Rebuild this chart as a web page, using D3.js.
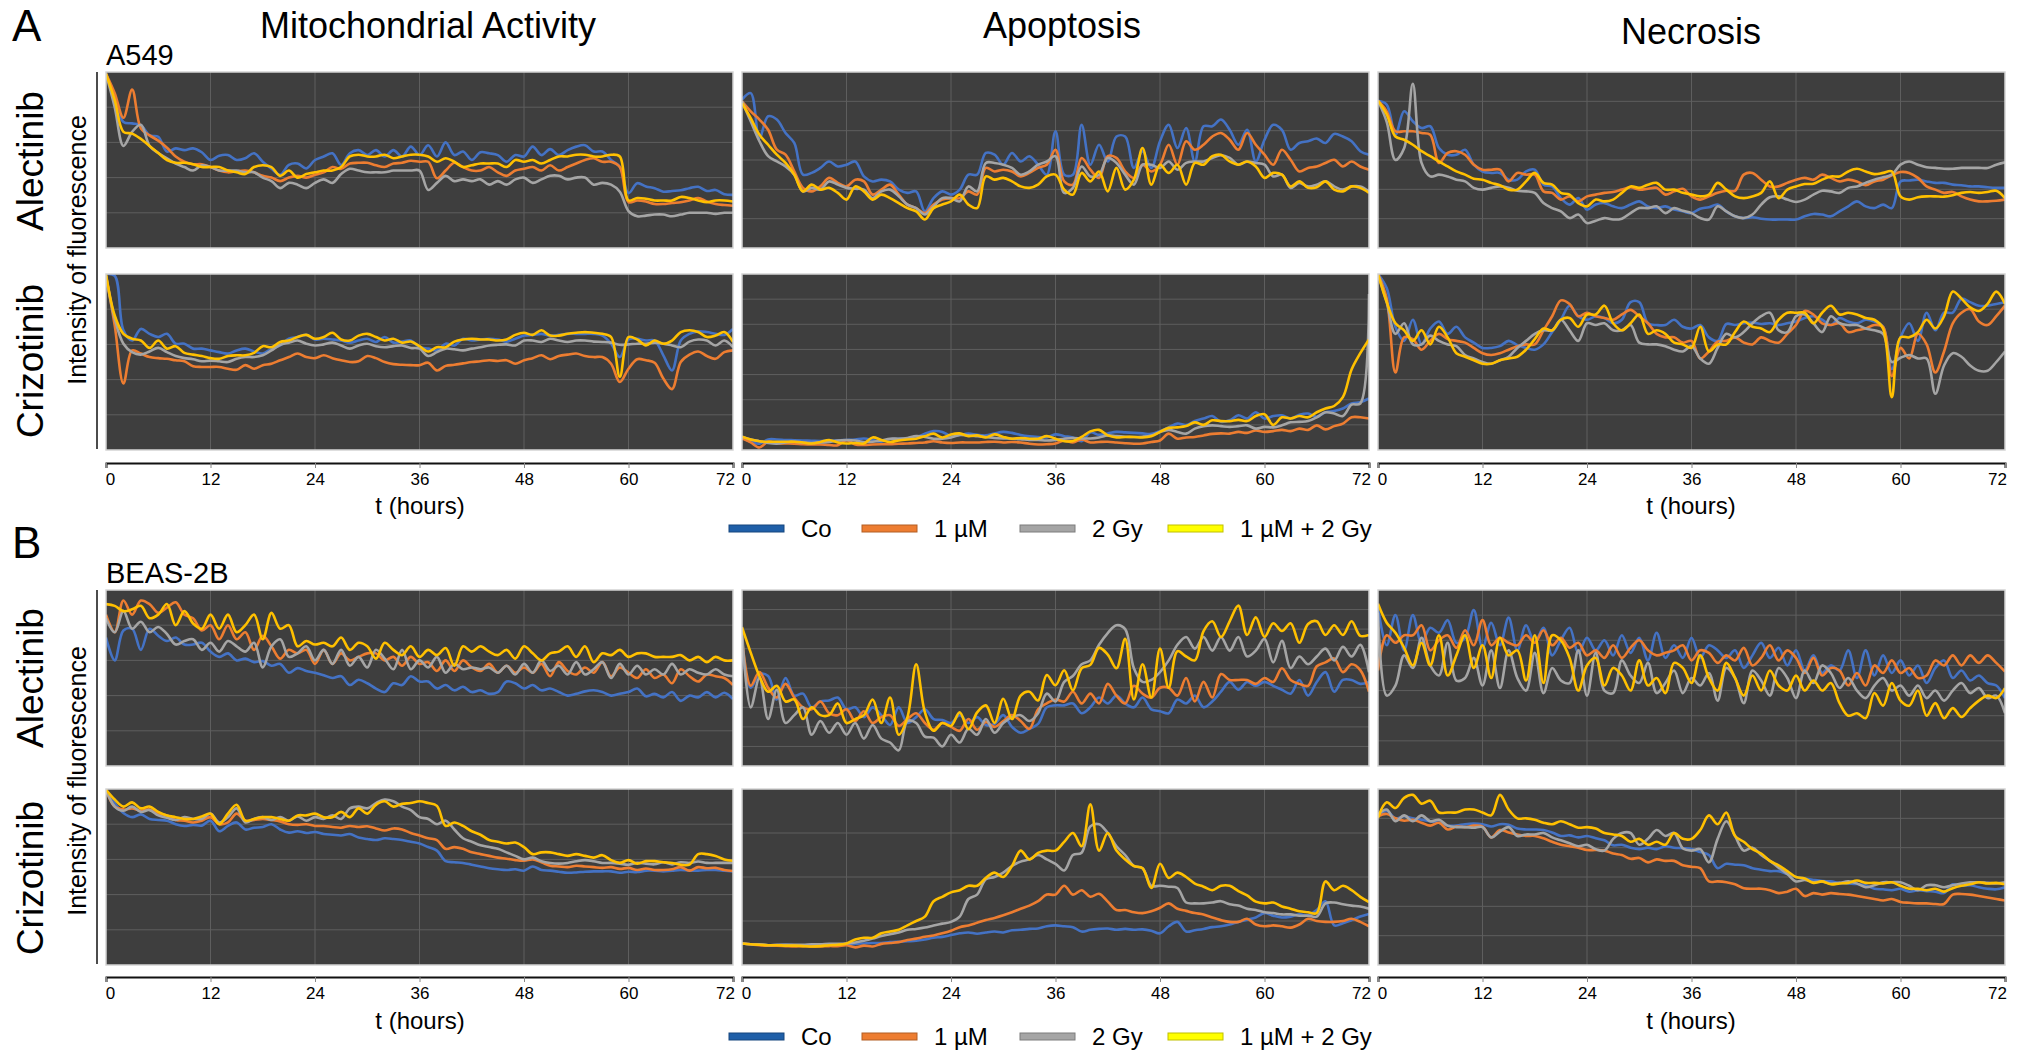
<!DOCTYPE html>
<html>
<head>
<meta charset="utf-8">
<script src="https://cdn.jsdelivr.net/npm/d3@7"></script>
<style>
body { margin: 0; background: #fff; }
svg text { font-family: "Liberation Sans", Arial, sans-serif; fill: #000; }
</style>
</head>
<body>
<svg id="chart" width="2024" height="1051"></svg>
<script>
// hourly readings, t = 0..72 h, in grid units of each panel
var hours = d3.range(0, 73);
var tickHours = [0, 12, 24, 36, 48, 60, 72];
var legendLabels = ["Co", "1 \u00b5M", "2 Gy", "1 \u00b5M + 2 Gy"];
var lineColors = ["#4472c4", "#ed7d31", "#a5a5a5", "#ffc000"];
var swatchColors = ["#1f5fa8", "#ed7d31", "#a5a5a5", "#ffff00"];
var columnTitles = ["Mitochondrial Activity", "Apoptosis", "Necrosis"];
var rowLabels = ["Alectinib", "Crizotinib", "Alectinib", "Crizotinib"];

// A549 - mitochondrial activity - alectinib
var aMitoAlecCo = [4.95,4.25,3.58,3.54,3.49,3.2,3.16,2.74,2.83,2.78,2.83,2.72,2.5,2.62,2.64,2.5,2.55,2.69,2.45,2.25,2.08,2.36,2.4,2.26,2.5,2.6,2.69,2.36,2.69,2.78,2.64,2.78,2.6,2.78,2.6,2.88,2.64,2.92,2.6,3.0,2.64,2.74,2.5,2.72,2.69,2.64,2.45,2.64,2.6,2.88,2.64,2.81,2.64,2.78,2.88,2.92,2.74,2.74,2.5,2.31,1.56,1.84,1.75,1.7,1.6,1.62,1.64,1.7,1.74,1.62,1.65,1.53,1.51];
var aMitoAlecUm = [4.95,4.4,3.7,4.5,3.4,3.2,3.05,2.85,2.6,2.45,2.38,2.38,2.3,2.2,2.15,2.18,2.2,2.15,2.05,2.0,1.9,2.0,2.05,2.0,2.08,2.15,2.3,2.25,2.4,2.42,2.42,2.35,2.3,2.4,2.42,2.48,2.45,2.45,1.98,2.2,2.42,2.3,2.2,2.2,2.3,2.15,2.05,2.2,2.25,2.3,2.2,2.35,2.2,2.3,2.4,2.5,2.55,2.45,2.45,2.3,1.3,1.35,1.32,1.25,1.25,1.28,1.3,1.35,1.42,1.32,1.25,1.22,1.2];
var aMitoAlecGy = [4.95,4.0,2.9,3.3,3.5,2.9,2.7,2.55,2.4,2.3,2.2,2.35,2.3,2.2,2.2,2.2,2.15,2.15,2.0,1.9,1.7,1.85,1.8,1.7,1.85,1.95,1.85,2.1,2.25,2.2,2.15,2.15,2.15,2.2,2.2,2.2,2.2,1.65,1.85,2.05,1.9,1.95,1.9,1.95,1.8,1.9,1.8,1.95,2.0,1.85,1.95,2.05,2.05,1.95,2.0,2.0,1.8,1.85,1.8,1.6,1.05,0.9,0.92,0.95,0.95,0.9,0.95,1.0,1.0,1.0,0.97,1.0,1.0];
var aMitoAlecBoth = [4.95,4.2,3.3,3.25,3.1,2.9,2.7,2.5,2.42,2.42,2.38,2.3,2.3,2.3,2.2,2.15,2.1,2.3,2.35,2.3,2.05,2.2,2.0,2.1,2.15,2.2,2.2,2.3,2.6,2.65,2.6,2.6,2.65,2.55,2.6,2.65,2.65,2.6,2.45,2.55,2.45,2.3,2.35,2.4,2.4,2.4,2.3,2.5,2.45,2.5,2.4,2.5,2.6,2.6,2.65,2.65,2.6,2.6,2.65,2.6,1.35,1.42,1.4,1.35,1.35,1.35,1.45,1.42,1.35,1.3,1.35,1.35,1.32];

// A549 - apoptosis - alectinib
var aApopAlecCo = [5.06,5.28,3.75,4.49,4.38,3.92,3.58,2.5,2.56,2.73,2.95,2.78,2.84,2.95,2.44,2.27,2.33,2.27,1.99,1.88,1.93,1.25,1.7,1.93,1.82,1.99,2.5,2.5,3.24,3.18,2.84,3.24,2.95,3.13,2.84,2.5,3.98,2.5,2.5,4.2,2.84,3.52,2.95,3.8,3.8,2.73,3.3,2.73,3.64,4.2,3.41,4.09,2.95,4.15,4.15,4.38,4.03,3.52,4.03,2.95,3.69,4.2,4.03,3.35,3.58,3.64,3.73,3.58,3.89,3.8,3.64,3.3,3.18];
var aApopAlecUm = [5.0,4.66,4.38,4.03,3.35,3.18,2.61,2.05,1.93,2.1,2.39,2.22,2.1,2.33,2.27,1.82,1.99,2.16,1.82,1.48,1.36,1.19,1.48,1.65,1.7,1.7,1.93,1.82,2.73,2.61,2.67,2.61,2.44,2.56,2.73,2.84,3.35,2.27,2.16,3.07,2.67,2.39,3.13,3.07,2.61,2.39,2.84,2.61,2.84,3.52,2.84,3.64,3.35,3.52,3.8,3.92,3.69,3.35,3.92,3.52,3.18,2.84,3.35,3.01,2.61,2.73,2.78,2.9,3.01,2.78,2.95,2.78,2.67];
var aApopAlecGy = [5.0,4.32,3.64,3.13,2.95,2.78,2.5,1.93,2.05,1.99,2.27,2.16,2.05,2.02,1.99,1.7,1.93,1.99,1.76,1.48,1.36,1.14,1.42,1.7,1.7,1.59,2.1,1.93,2.9,2.9,2.84,2.73,2.5,2.61,2.84,2.95,3.13,1.88,2.05,2.78,2.44,2.5,3.07,2.9,2.5,2.16,2.84,2.84,2.73,2.95,2.67,2.9,2.95,2.95,3.07,3.16,3.07,2.84,2.95,2.9,2.84,2.44,2.5,2.05,2.22,2.1,2.16,2.27,2.1,1.99,2.1,2.1,1.93];
var aApopAlecBoth = [4.94,4.43,3.86,3.52,3.18,2.9,2.5,1.93,2.16,1.99,2.05,1.88,1.65,2.1,1.93,1.65,1.82,1.7,1.53,1.36,1.25,0.97,1.36,1.48,1.59,1.82,1.48,1.36,2.44,2.33,2.39,2.27,2.1,2.05,2.16,2.44,2.5,1.99,1.82,2.56,2.27,2.61,1.93,2.73,1.99,2.33,3.41,2.16,2.84,2.56,2.84,2.16,2.9,2.84,3.13,3.18,2.95,2.84,2.95,2.78,2.39,2.56,2.5,2.1,2.27,2.05,2.07,2.27,1.99,1.93,2.1,2.05,1.88];

// A549 - necrosis - alectinib
var aNecrAlecCo = [5.02,4.89,3.86,4.66,4.32,4.09,4.15,3.41,3.18,3.18,3.35,2.84,2.61,2.56,2.56,2.33,2.33,2.61,2.67,2.16,2.1,1.7,1.48,1.7,1.31,1.48,1.53,1.42,1.36,1.48,1.59,1.42,1.36,1.42,1.31,1.25,1.19,1.34,1.39,1.48,1.25,1.08,1.02,1.05,1.0,0.97,0.97,0.97,0.97,1.08,1.16,1.14,1.08,1.25,1.42,1.59,1.42,1.36,1.48,1.36,2.27,2.3,2.33,2.27,2.22,2.22,2.16,2.14,2.1,2.1,2.07,2.05,2.05];
var aNecrAlecUm = [5.02,4.66,3.98,3.98,3.98,3.92,3.86,2.9,3.24,3.3,3.18,2.84,2.67,2.67,2.67,2.27,2.56,2.5,2.5,1.93,1.88,1.65,1.76,1.59,1.76,1.82,1.88,1.91,1.99,2.07,1.99,2.02,2.05,1.82,1.93,2.02,1.76,1.65,1.76,1.88,1.95,1.95,2.5,2.56,2.33,2.1,2.1,2.22,2.33,2.39,2.33,2.5,2.39,2.27,2.33,2.27,2.14,2.27,2.33,2.48,2.59,2.56,2.39,2.1,1.99,1.88,1.91,1.76,1.65,1.59,1.59,1.61,1.65];
var aNecrAlecGy = [5.02,4.3,3.0,3.4,5.6,2.9,2.44,2.5,2.44,2.33,2.27,2.05,1.99,2.05,2.1,2.05,1.95,1.93,1.88,1.53,1.36,1.25,1.02,1.14,0.85,0.93,1.02,0.97,1.0,1.19,1.36,1.36,1.42,1.19,1.36,1.27,1.19,1.02,0.97,1.42,1.25,1.08,1.02,1.14,1.48,1.73,1.76,1.65,1.57,1.65,1.82,1.95,1.93,1.88,2.05,2.1,2.22,2.33,2.41,2.5,2.84,2.95,2.84,2.75,2.73,2.7,2.7,2.73,2.73,2.73,2.73,2.84,2.92];
var aNecrAlecBoth = [5.02,4.55,3.8,3.69,3.52,3.3,3.13,2.95,2.78,2.61,2.5,2.36,2.33,2.22,2.14,1.99,1.99,2.27,2.56,2.22,2.16,1.88,1.82,1.53,1.42,1.65,1.59,1.65,1.88,2.1,2.05,2.16,2.22,1.99,1.99,1.88,1.82,1.76,1.82,2.22,1.99,1.76,1.7,1.76,1.88,2.27,1.7,1.99,2.1,2.18,2.19,2.33,2.44,2.44,2.61,2.7,2.61,2.52,2.56,2.61,1.76,1.65,1.73,1.76,1.76,1.75,1.8,1.88,1.91,1.88,1.91,1.95,1.7];

// A549 - mitochondrial activity - crizotinib
var aMitoCrizCo = [5.0,4.95,3.4,3.11,3.44,3.3,3.21,3.3,3.02,3.02,2.88,2.88,2.83,2.78,2.74,2.83,2.88,2.8,2.74,2.88,2.97,3.16,3.21,3.27,3.14,3.16,3.14,3.11,3.05,3.11,3.16,3.07,3.21,3.05,3.08,3.11,2.92,2.88,2.83,3.02,2.97,3.16,3.11,3.14,3.16,3.14,3.08,3.16,3.25,3.27,3.3,3.25,3.27,3.3,3.3,3.3,3.3,3.25,3.02,2.64,3.14,3.16,3.11,3.11,2.69,2.26,3.11,3.3,3.37,3.35,3.3,3.27,3.44];
var aMitoCrizUm = [4.95,3.54,1.89,2.83,2.74,2.64,2.61,2.59,2.55,2.52,2.38,2.36,2.36,2.36,2.31,2.28,2.41,2.31,2.41,2.45,2.55,2.64,2.74,2.64,2.61,2.69,2.61,2.55,2.5,2.52,2.67,2.61,2.5,2.44,2.42,2.41,2.41,2.48,2.26,2.39,2.42,2.46,2.5,2.52,2.55,2.53,2.55,2.45,2.55,2.61,2.69,2.58,2.67,2.71,2.74,2.67,2.64,2.64,2.45,1.93,2.31,2.58,2.55,2.48,2.03,1.73,2.5,2.71,2.8,2.67,2.59,2.78,2.83];
var aMitoCrizGy = [4.95,3.73,3.02,2.78,2.71,2.8,2.9,2.78,2.67,2.61,2.58,2.52,2.54,2.52,2.5,2.59,2.64,2.64,2.69,2.83,2.99,3.05,3.11,3.02,2.97,3.0,3.05,2.97,2.88,2.97,3.02,2.95,2.92,2.95,2.97,2.9,2.88,2.67,2.78,2.88,2.86,2.83,2.88,2.92,2.97,2.99,3.0,2.97,3.11,3.11,3.07,3.16,3.11,3.07,3.11,3.11,3.08,3.07,3.05,2.99,3.0,3.02,3.02,3.05,3.02,2.97,2.92,3.08,3.14,3.11,2.97,3.11,2.92];
var aMitoCrizBoth = [5.0,3.82,3.3,3.16,3.11,2.9,3.11,2.88,2.95,2.76,2.71,2.67,2.61,2.59,2.67,2.69,2.69,2.76,2.95,2.92,3.07,3.11,3.21,3.27,3.16,3.21,3.33,3.14,3.11,3.25,3.3,3.21,3.11,3.16,3.05,3.08,2.95,2.8,2.92,2.92,3.08,3.14,3.16,3.14,3.14,3.11,3.14,3.27,3.33,3.27,3.4,3.25,3.25,3.3,3.33,3.35,3.33,3.3,3.21,2.08,3.21,3.14,2.97,3.11,3.02,3.11,3.35,3.4,3.35,3.21,3.25,3.35,3.07];

// A549 - apoptosis - crizotinib
var aApopCrizCo = [0.49,0.33,0.25,0.42,0.42,0.4,0.39,0.38,0.37,0.36,0.37,0.38,0.4,0.42,0.46,0.4,0.33,0.43,0.45,0.46,0.5,0.65,0.75,0.72,0.55,0.6,0.65,0.6,0.58,0.66,0.72,0.68,0.6,0.55,0.52,0.5,0.62,0.55,0.5,0.35,0.7,0.6,0.66,0.72,0.7,0.68,0.66,0.64,0.75,0.9,1.05,0.99,1.15,1.25,1.35,1.12,1.18,1.38,1.25,1.5,1.25,1.35,1.38,1.25,1.4,1.45,1.32,1.5,1.55,1.65,1.85,1.9,2.05];
var aApopCrizUm = [0.46,0.3,0.1,0.33,0.27,0.26,0.25,0.23,0.22,0.22,0.2,0.19,0.39,0.22,0.2,0.22,0.23,0.23,0.25,0.26,0.28,0.3,0.35,0.3,0.28,0.3,0.3,0.3,0.32,0.33,0.3,0.32,0.3,0.25,0.22,0.23,0.26,0.38,0.3,0.42,0.3,0.32,0.33,0.3,0.27,0.25,0.26,0.32,0.38,0.65,0.45,0.5,0.52,0.58,0.64,0.66,0.65,0.72,0.68,0.78,0.72,0.75,0.8,0.75,0.85,0.8,0.98,0.82,0.95,1.05,1.3,1.3,1.25];
var aApopCrizGy = [0.53,0.42,0.35,0.28,0.25,0.3,0.33,0.3,0.28,0.3,0.32,0.38,0.4,0.38,0.32,0.33,0.38,0.45,0.45,0.48,0.55,0.52,0.45,0.45,0.5,0.6,0.58,0.55,0.52,0.48,0.46,0.45,0.43,0.4,0.4,0.38,0.4,0.45,0.48,0.46,0.46,0.5,0.58,0.55,0.53,0.52,0.53,0.58,0.72,0.8,0.72,0.65,0.85,0.95,0.98,0.95,0.92,0.95,0.98,0.85,0.92,0.9,0.98,1.1,1.12,1.15,1.3,1.5,1.45,1.35,1.8,1.85,6.2];
var aApopCrizBoth = [0.53,0.42,0.35,0.33,0.33,0.33,0.33,0.3,0.26,0.32,0.4,0.3,0.26,0.28,0.26,0.5,0.4,0.32,0.38,0.42,0.45,0.55,0.65,0.5,0.62,0.66,0.55,0.58,0.5,0.62,0.52,0.45,0.48,0.45,0.45,0.55,0.45,0.35,0.36,0.52,0.74,0.8,0.58,0.5,0.52,0.52,0.5,0.55,0.72,0.88,0.9,0.95,1.1,1.0,1.18,1.15,1.15,1.2,1.15,1.35,1.42,1.0,1.3,1.25,1.35,1.3,1.5,1.65,1.75,2.1,3.2,3.85,4.4];

// A549 - necrosis - crizotinib
var aNecrCrizCo = [5.0,4.6,3.5,3.1,3.7,3.0,3.45,3.65,3.3,3.5,3.2,3.05,2.9,2.9,2.95,3.1,2.98,2.9,2.85,3.0,3.35,3.7,4.1,3.8,3.7,3.8,3.75,3.6,3.7,4.2,4.2,3.6,3.55,3.55,3.7,3.5,3.45,3.55,3.2,3.1,3.58,3.55,3.6,3.62,3.58,3.6,3.55,3.6,3.65,3.75,3.8,3.7,3.55,3.75,3.65,3.6,3.7,3.65,3.5,2.3,3.2,3.6,3.1,3.9,3.4,3.9,3.9,4.3,4.2,4.1,4.1,4.15,4.2];
var aNecrCrizUm = [5.0,4.3,2.2,3.2,3.15,2.85,3.1,3.3,3.15,3.1,3.05,2.9,2.75,2.7,2.75,2.85,2.95,3.0,3.0,3.4,3.8,4.25,4.15,3.8,3.9,3.8,3.75,3.7,3.85,3.98,3.8,3.6,3.3,3.2,3.2,3.05,3.1,2.6,2.8,3.08,3.1,3.2,3.05,3.0,3.2,3.1,3.05,3.3,3.55,3.95,3.85,3.6,3.55,3.6,3.35,3.4,3.45,3.55,3.5,2.1,2.9,2.6,3.3,3.0,2.2,2.8,3.6,3.9,4.0,3.65,3.55,3.8,4.1];
var aNecrCrizGy = [5.0,4.2,3.3,3.6,3.0,3.0,3.25,3.1,3.0,2.95,2.7,2.6,2.5,2.45,2.55,2.65,2.9,3.1,3.3,3.4,3.4,3.7,3.4,3.1,3.6,3.55,3.6,3.4,3.4,3.55,3.05,3.0,3.0,2.95,2.85,2.8,2.95,2.6,2.45,2.9,3.3,3.2,3.35,3.6,3.8,3.9,3.4,3.35,3.8,3.85,3.6,3.35,3.8,3.6,3.55,3.55,3.45,3.4,3.3,2.5,2.62,2.7,2.6,2.6,1.6,2.4,2.75,2.65,2.4,2.25,2.25,2.5,2.8];
var aNecrCrizBoth = [5.0,4.2,3.6,3.4,3.1,3.4,3.0,3.5,3.2,2.75,2.65,2.55,2.45,2.45,2.55,2.6,2.65,2.85,3.15,3.45,3.4,3.7,3.75,3.5,3.85,3.85,4.1,3.6,3.4,3.6,3.85,3.3,3.4,3.3,3.05,3.0,2.9,3.5,2.8,3.0,3.0,3.35,3.65,3.5,3.45,3.35,3.7,3.9,3.9,3.9,3.6,3.9,4.1,3.85,3.9,3.85,3.75,3.7,3.45,1.5,3.2,3.2,3.35,3.7,3.45,3.8,4.5,4.3,4.05,3.95,4.15,4.5,4.15];

// BEAS-2B - mitochondrial activity - alectinib
var bMitoAlecCo = [3.65,3.0,3.85,3.9,3.3,3.9,3.7,3.55,3.65,3.45,3.45,3.5,3.25,3.1,3.2,3.0,3.05,2.95,2.98,2.85,2.9,2.65,2.78,2.7,2.65,2.58,2.5,2.55,2.3,2.45,2.35,2.2,2.1,2.35,2.3,2.55,2.4,2.4,2.2,2.3,2.15,2.25,2.1,2.15,2.05,2.1,2.4,2.35,2.2,2.3,2.15,2.2,2.1,2.0,2.05,2.12,2.15,2.1,2.0,2.05,2.1,2.2,1.98,2.05,1.95,2.1,1.85,2.0,1.95,2.1,1.95,2.08,1.9];
var bMitoAlecUm = [4.3,3.8,4.7,4.3,4.7,4.6,4.35,4.5,4.65,4.3,4.2,3.85,4.0,3.6,4.0,3.6,3.8,3.3,3.7,3.4,3.05,3.3,3.2,3.3,2.9,3.3,2.9,3.2,3.0,3.1,3.2,3.2,3.0,3.1,2.85,3.1,2.9,2.95,2.7,3.0,2.7,3.0,2.8,2.7,2.9,2.65,2.85,2.65,2.8,2.65,2.9,2.55,2.95,2.7,2.6,2.8,2.65,2.95,2.55,2.8,2.65,2.5,2.75,2.5,2.6,2.35,2.75,2.55,2.4,2.6,2.55,2.5,2.3];
var bMitoAlecGy = [4.2,3.8,4.4,3.9,4.1,3.8,3.95,3.75,3.45,3.55,3.6,3.3,3.5,3.25,3.55,3.4,3.25,3.5,2.8,3.4,3.6,3.1,3.2,3.4,3.0,3.3,2.9,3.3,2.85,3.1,2.8,3.3,3.05,2.75,3.3,2.75,3.0,2.8,3.1,2.65,2.9,2.75,2.8,2.75,2.8,2.65,2.85,2.6,2.9,2.65,3.0,2.7,2.85,2.6,2.95,2.6,2.75,2.95,2.5,2.9,2.6,2.85,2.6,2.75,2.6,2.9,2.6,2.75,2.65,2.6,2.75,2.6,2.55];
var bMitoAlecBoth = [4.6,4.55,4.4,4.45,4.55,4.2,4.3,4.6,4.0,4.4,4.05,3.9,4.3,3.9,4.3,3.8,4.0,4.3,3.6,4.35,3.9,4.0,3.4,3.55,3.45,3.5,3.4,3.65,3.3,3.5,3.4,3.05,3.5,3.3,3.15,3.4,3.1,3.3,3.15,3.35,2.85,3.4,3.25,3.4,3.25,3.15,3.3,3.05,3.4,3.2,3.0,3.2,3.25,3.4,3.1,3.4,2.95,3.2,3.15,3.3,3.1,3.2,3.2,3.1,3.1,3.1,3.15,3.0,3.1,2.95,3.1,3.0,3.0];

// BEAS-2B - apoptosis - alectinib
var bApopAlecCo = [5.9,4.0,4.7,4.6,3.4,4.5,3.6,3.7,3.0,3.3,3.35,3.5,2.9,3.0,2.5,3.0,2.6,2.1,3.0,2.2,2.5,2.9,2.4,2.35,2.2,2.6,2.2,2.5,2.1,2.15,2.6,2.0,1.7,1.9,2.15,3.0,3.1,3.1,3.2,2.7,3.0,3.5,3.2,3.6,3.2,3.0,3.5,2.9,2.8,2.7,3.4,3.2,3.6,3.0,3.3,3.8,4.3,3.9,4.3,4.1,4.3,4.1,3.9,3.7,4.4,3.6,4.3,4.8,3.8,4.4,4.4,4.2,4.3];
var bApopAlecUm = [6.5,4.1,4.8,4.0,3.5,4.2,3.5,3.0,2.9,3.3,2.7,2.6,2.9,2.3,2.8,2.2,2.5,2.6,2.05,2.4,2.7,2.2,1.85,2.2,2.0,1.8,2.4,1.85,2.25,2.0,2.3,2.6,2.3,1.9,2.9,3.2,3.4,3.3,3.8,3.2,3.7,3.2,4.2,3.6,3.2,4.1,3.7,3.5,4.0,4.0,3.6,4.5,3.3,4.3,3.5,4.7,4.4,4.4,4.4,4.2,4.5,4.3,5.0,4.4,4.2,4.1,5.1,5.3,5.5,4.8,5.2,4.9,3.8];
var bApopAlecGy = [6.9,3.0,4.5,2.4,3.9,2.2,2.6,3.0,1.6,2.3,1.7,2.2,1.6,2.2,1.4,2.1,1.4,1.2,0.8,2.3,2.2,1.5,1.45,1.0,1.6,1.2,1.9,1.6,2.4,1.7,2.2,2.5,2.6,2.3,2.7,3.7,3.3,4.3,4.6,5.2,5.4,6.2,6.8,7.2,7.0,5.0,4.3,4.4,4.8,5.4,6.2,6.6,6.0,6.6,5.9,6.6,5.9,6.6,5.6,5.9,6.5,5.3,6.4,5.0,5.6,5.2,5.6,6.0,5.4,6.1,5.6,6.2,4.8];
var bApopAlecBoth = [7.1,5.8,4.6,3.8,4.1,3.3,3.4,2.4,3.0,2.6,2.6,3.2,2.2,2.4,2.6,3.4,2.2,3.5,1.6,2.5,5.2,2.75,1.8,2.2,2.05,2.74,1.88,2.74,3.1,2.2,3.44,2.4,3.6,3.8,3.35,4.65,4.13,4.9,3.87,5.0,5.17,6.04,5.7,5.0,6.5,3.4,5.2,3.5,6.0,4.0,5.87,5.6,5.4,6.9,7.4,6.6,7.4,8.2,6.7,7.6,6.6,7.3,6.9,7.3,6.3,7.26,7.4,6.7,7.2,6.7,7.4,6.65,6.7];

// BEAS-2B - necrosis - alectinib
var bNecrAlecCo = [6.3,4.8,6.0,4.6,6.0,4.9,5.5,5.3,5.8,4.9,5.1,6.2,4.7,5.7,4.8,5.9,4.6,5.6,4.9,5.5,4.4,5.0,5.5,4.5,5.1,4.6,5.0,4.4,5.2,4.5,5.1,4.2,5.3,4.3,4.8,4.3,5.1,4.3,4.8,4.6,4.3,4.6,3.9,4.4,4.9,4.3,4.7,4.0,4.6,3.8,4.4,3.7,4.0,3.8,4.6,3.5,4.6,3.6,4.4,3.7,4.2,3.6,4.0,3.3,3.9,4.2,3.5,3.8,3.4,3.6,3.3,3.2,2.7];
var bNecrAlecUm = [3.8,5.2,4.9,5.2,5.2,5.6,4.6,5.0,5.2,4.7,5.4,4.8,5.8,4.8,5.1,4.9,4.8,5.2,4.9,5.4,4.8,5.1,4.7,4.9,4.4,4.6,4.3,4.8,4.3,4.7,5.0,4.6,4.4,4.5,4.6,4.8,4.2,4.6,4.5,4.1,4.4,4.2,4.7,4.0,4.3,4.8,4.2,4.6,4.3,3.7,4.3,3.6,3.9,3.8,3.2,3.7,3.2,4.0,3.7,4.2,3.7,3.9,3.5,3.6,4.2,4.0,4.4,4.0,4.4,4.1,4.4,4.1,3.75];
var bNecrAlecGy = [6.1,2.8,3.2,4.4,3.9,5.1,4.0,3.6,4.9,3.4,3.5,4.3,3.2,4.6,3.1,4.6,3.5,3.0,4.5,2.9,3.9,3.4,3.3,4.6,2.8,4.5,3.0,2.9,4.2,3.6,3.3,4.1,2.9,3.3,3.8,2.9,3.5,3.2,3.7,2.6,3.9,3.5,2.5,3.8,3.4,2.8,3.9,3.5,2.7,3.8,3.3,4.0,3.7,3.1,3.5,3.0,2.7,3.2,3.5,3.0,3.2,2.8,3.2,2.7,3.0,2.6,3.0,3.3,2.9,3.1,2.7,2.8,2.1];
var bNecrAlecBoth = [6.45,5.7,5.3,4.7,4.0,4.9,4.0,5.2,3.6,4.4,5.2,3.9,4.8,3.5,5.1,4.4,4.6,3.4,5.2,3.3,5.2,5.0,4.3,3.0,4.0,4.3,3.2,3.9,3.6,3.0,4.2,3.2,3.5,2.9,4.1,3.9,3.3,4.4,3.5,3.0,4.1,3.5,2.8,3.6,3.0,3.8,3.2,3.0,3.6,3.0,3.4,3.0,3.3,2.5,2.0,2.1,1.9,2.9,2.4,3.3,2.6,2.4,3.0,2.0,2.5,1.9,2.3,1.95,2.3,2.6,2.8,2.7,3.1];

// BEAS-2B - mitochondrial activity - crizotinib
var bMitoCrizCo = [4.98,4.6,4.32,4.2,4.28,4.15,4.12,4.1,4.0,3.95,3.98,3.96,4.1,3.8,3.95,4.05,3.85,3.9,3.92,4.0,3.85,3.76,3.8,3.75,3.78,3.72,3.7,3.68,3.72,3.62,3.58,3.55,3.6,3.58,3.55,3.5,3.45,3.35,3.25,2.95,2.92,2.9,2.85,2.8,2.75,2.72,2.7,2.72,2.68,2.8,2.7,2.68,2.65,2.62,2.63,2.65,2.66,2.66,2.66,2.62,2.65,2.64,2.68,2.68,2.66,2.68,2.7,2.68,2.68,2.7,2.7,2.68,2.66];
var bMitoCrizUm = [4.98,4.5,4.42,4.45,4.38,4.42,4.3,4.25,4.12,4.1,4.05,4.1,4.2,4.0,4.05,4.3,4.1,4.12,4.15,4.12,4.08,4.0,3.98,4.0,3.95,3.95,3.92,3.9,3.95,3.92,3.94,3.88,3.82,3.88,3.85,3.75,3.68,3.6,3.55,3.3,3.35,3.3,3.2,3.15,3.1,3.05,3.02,2.98,2.96,3.0,2.92,2.82,2.8,2.78,2.82,2.8,2.78,2.76,2.78,2.73,2.76,2.7,2.74,2.7,2.7,2.72,2.78,2.68,2.78,2.75,2.76,2.7,2.67];
var bMitoCrizGy = [4.98,4.5,4.38,4.5,4.35,4.4,4.25,4.18,4.12,4.2,4.15,4.15,4.3,4.05,4.2,4.45,4.05,4.15,4.2,4.12,4.2,4.1,4.22,4.1,4.2,4.15,4.25,4.15,4.45,4.5,4.45,4.6,4.7,4.65,4.5,4.4,4.2,4.15,4.0,4.1,3.85,3.6,3.5,3.4,3.35,3.3,3.2,3.1,3.0,3.05,2.95,2.9,2.88,2.9,2.95,2.98,2.95,2.9,2.9,2.88,2.85,2.9,2.88,2.86,2.92,2.86,2.92,2.9,2.94,2.9,2.9,2.9,2.9];
var bMitoCrizBoth = [4.98,4.7,4.5,4.62,4.45,4.5,4.35,4.25,4.2,4.15,4.15,4.22,4.3,4.0,4.3,4.55,4.1,4.15,4.2,4.2,4.15,4.1,4.25,4.25,4.3,4.2,4.2,4.35,4.2,4.45,4.3,4.55,4.65,4.5,4.58,4.6,4.65,4.6,4.52,3.95,4.05,3.95,3.8,3.7,3.55,3.5,3.45,3.48,3.35,3.15,3.2,3.2,3.15,3.1,3.15,3.1,3.05,3.12,2.98,2.9,2.98,2.88,2.95,2.95,2.92,2.9,2.85,2.85,3.15,3.15,3.1,3.0,2.96];

// BEAS-2B - apoptosis - crizotinib
var bApopCrizCo = [0.49,0.47,0.47,0.45,0.45,0.46,0.45,0.44,0.45,0.46,0.45,0.45,0.46,0.48,0.49,0.5,0.5,0.52,0.53,0.54,0.55,0.58,0.62,0.64,0.68,0.72,0.74,0.71,0.74,0.76,0.74,0.79,0.8,0.82,0.83,0.88,0.9,0.88,0.86,0.76,0.8,0.82,0.83,0.8,0.82,0.8,0.81,0.78,0.72,0.88,0.98,0.76,0.79,0.82,0.86,0.88,0.92,0.98,1.03,1.08,1.18,1.12,1.08,1.1,1.15,1.13,1.25,1.45,0.9,0.95,1.02,1.1,1.16];
var bApopCrizUm = [0.49,0.47,0.45,0.44,0.44,0.43,0.42,0.43,0.42,0.42,0.43,0.43,0.45,0.4,0.44,0.42,0.48,0.5,0.52,0.57,0.6,0.64,0.67,0.72,0.78,0.86,0.9,0.96,1.02,1.07,1.13,1.2,1.28,1.35,1.45,1.6,1.6,1.8,1.6,1.7,1.55,1.62,1.44,1.25,1.25,1.2,1.18,1.22,1.3,1.4,1.28,1.23,1.18,1.15,1.08,1.02,0.98,0.98,1.05,0.92,0.88,0.9,0.88,0.85,0.92,1.05,1.0,0.98,0.98,1.0,1.05,0.98,0.88];
var bApopCrizGy = [0.49,0.47,0.47,0.45,0.46,0.46,0.46,0.46,0.47,0.47,0.48,0.48,0.49,0.51,0.55,0.6,0.66,0.7,0.74,0.8,0.82,0.85,0.9,0.94,0.98,1.1,1.5,1.6,1.95,2.0,2.1,2.25,2.35,2.4,2.5,2.4,2.3,2.15,2.5,2.55,3.15,3.2,3.0,2.7,2.5,2.25,2.2,1.8,1.8,1.78,1.75,1.42,1.4,1.4,1.42,1.45,1.38,1.35,1.28,1.25,1.2,1.18,1.15,1.15,1.12,1.12,1.1,1.4,1.42,1.38,1.35,1.33,1.28];
var bApopCrizBoth = [0.49,0.47,0.46,0.45,0.45,0.44,0.44,0.43,0.42,0.43,0.45,0.46,0.49,0.58,0.62,0.62,0.72,0.76,0.8,0.9,1.0,1.1,1.45,1.55,1.65,1.7,1.8,1.8,1.98,2.1,2.0,2.25,2.6,2.4,2.55,2.6,2.6,2.8,3.0,2.7,3.65,2.6,3.0,2.6,2.4,2.25,2.2,1.75,2.3,1.98,2.1,2.0,1.85,1.78,1.7,1.8,1.8,1.68,1.58,1.44,1.4,1.42,1.33,1.28,1.22,1.2,1.18,1.9,1.7,1.8,1.7,1.55,1.43];

// BEAS-2B - necrosis - crizotinib
var bNecrCrizCo = [5.07,5.25,5.0,5.07,5.0,4.95,4.9,4.85,4.75,4.75,4.8,4.82,4.8,4.72,4.8,4.78,4.65,4.62,4.62,4.6,4.52,4.4,4.42,4.35,4.4,4.32,4.25,4.08,4.1,4.0,3.95,4.0,3.95,4.05,4.0,3.98,3.95,3.85,3.75,3.3,3.45,3.42,3.4,3.3,3.25,3.2,3.2,3.1,3.0,2.95,2.9,2.86,2.85,2.8,2.78,2.76,2.72,2.6,2.58,2.55,2.6,2.5,2.55,2.52,2.5,2.45,2.75,2.7,2.72,2.65,2.6,2.58,2.65];
var bNecrCrizUm = [5.07,5.15,5.0,4.92,4.95,4.85,4.75,4.85,4.62,4.72,4.7,4.75,4.72,4.35,4.6,4.52,4.45,4.4,4.4,4.32,4.2,4.1,4.05,4.0,3.92,3.92,3.9,3.8,3.75,3.62,3.65,3.5,3.6,3.55,3.55,3.4,3.35,3.3,2.85,2.85,2.82,2.75,2.62,2.6,2.6,2.55,2.45,2.5,2.6,2.35,2.45,2.4,2.45,2.42,2.4,2.35,2.3,2.25,2.2,2.25,2.15,2.12,2.1,2.1,2.08,2.08,2.4,2.42,2.4,2.35,2.3,2.25,2.2];
var bNecrCrizGy = [5.13,5.3,4.9,5.1,4.9,5.1,4.9,4.95,4.75,4.7,4.7,4.68,4.7,4.35,4.55,4.7,4.4,4.45,4.45,4.5,4.35,4.25,4.15,4.05,4.1,3.95,3.9,4.3,4.5,4.5,4.1,4.3,4.6,4.4,4.5,3.98,3.9,3.95,3.5,4.3,4.9,4.4,3.9,4.0,3.75,3.55,3.32,3.1,2.85,2.9,2.82,2.85,2.78,2.8,2.85,2.78,2.65,2.72,2.82,2.82,2.82,2.7,2.55,2.72,2.72,2.65,2.72,2.78,2.82,2.82,2.8,2.78,2.82];
var bNecrCrizBoth = [5.02,5.55,5.35,5.7,5.8,5.5,5.6,5.2,5.2,5.2,5.3,5.3,5.2,5.1,5.8,5.3,5.0,5.0,4.95,4.85,4.8,4.9,4.8,4.68,4.7,4.65,4.5,4.45,4.4,4.2,4.3,4.1,4.2,4.1,4.5,4.3,4.3,4.6,5.1,4.8,5.2,4.4,4.2,3.95,3.8,3.55,3.4,3.2,3.0,2.95,2.8,2.85,2.75,2.78,2.8,2.88,2.8,2.8,2.78,2.82,2.7,2.6,2.6,2.55,2.6,2.5,2.62,2.7,2.75,2.82,2.78,2.8,2.75];

var panels = [
    {row: 0, col: 0, steps: 5, series: [aMitoAlecCo, aMitoAlecUm, aMitoAlecGy, aMitoAlecBoth]},
    {row: 0, col: 1, steps: 6, series: [aApopAlecCo, aApopAlecUm, aApopAlecGy, aApopAlecBoth]},
    {row: 0, col: 2, steps: 6, series: [aNecrAlecCo, aNecrAlecUm, aNecrAlecGy, aNecrAlecBoth]},
    {row: 1, col: 0, steps: 5, series: [aMitoCrizCo, aMitoCrizUm, aMitoCrizGy, aMitoCrizBoth]},
    {row: 1, col: 1, steps: 7, series: [aApopCrizCo, aApopCrizUm, aApopCrizGy, aApopCrizBoth]},
    {row: 1, col: 2, steps: 5, series: [aNecrCrizCo, aNecrCrizUm, aNecrCrizGy, aNecrCrizBoth]},
    {row: 2, col: 0, steps: 5, series: [bMitoAlecCo, bMitoAlecUm, bMitoAlecGy, bMitoAlecBoth]},
    {row: 2, col: 1, steps: 9, series: [bApopAlecCo, bApopAlecUm, bApopAlecGy, bApopAlecBoth]},
    {row: 2, col: 2, steps: 7, series: [bNecrAlecCo, bNecrAlecUm, bNecrAlecGy, bNecrAlecBoth]},
    {row: 3, col: 0, steps: 5, series: [bMitoCrizCo, bMitoCrizUm, bMitoCrizGy, bMitoCrizBoth]},
    {row: 3, col: 1, steps: 4, series: [bApopCrizCo, bApopCrizUm, bApopCrizGy, bApopCrizBoth]},
    {row: 3, col: 2, steps: 6, series: [bNecrCrizCo, bNecrCrizUm, bNecrCrizGy, bNecrCrizBoth]}
];

var svg = d3.select("#chart");
var colX = [106, 742, 1378];
var colW = 627;
var rowY = [72, 274, 590, 789];
var rowH = 176;

var x = d3.scaleLinear().domain([0, 72]).range([0, colW]);

panels.forEach(function(p, i) {
    var y = d3.scaleLinear().domain([0, p.steps]).range([rowH, 0]);
    var g = svg.append("g").attr("transform", "translate(" + colX[p.col] + "," + rowY[p.row] + ")");

    g.append("clipPath").attr("id", "clip" + i)
        .append("rect").attr("width", colW).attr("height", rowH);

    g.append("rect")
        .attr("width", colW).attr("height", rowH)
        .attr("fill", "#3e3e3e");

    g.selectAll(".hg").data(d3.range(1, p.steps)).enter().append("line")
        .attr("x1", 0).attr("x2", colW)
        .attr("y1", function(d) { return y(d); }).attr("y2", function(d) { return y(d); })
        .attr("stroke", "#5e5e5e").attr("stroke-width", 1);

    g.selectAll(".vg").data(tickHours.slice(1, -1)).enter().append("line")
        .attr("y1", 0).attr("y2", rowH)
        .attr("x1", function(d) { return x(d); }).attr("x2", function(d) { return x(d); })
        .attr("stroke", "#5e5e5e").attr("stroke-width", 1);

    var line = d3.line()
        .x(function(d, j) { return x(hours[j]); })
        .y(function(d) { return y(d); })
        .curve(d3.curveCatmullRom.alpha(0.5));

    g.append("g").attr("clip-path", "url(#clip" + i + ")")
        .selectAll("path").data(p.series).enter().append("path")
        .attr("d", line)
        .attr("fill", "none")
        .attr("stroke", function(d, k) { return lineColors[k]; })
        .attr("stroke-width", 2.6)
        .attr("stroke-linejoin", "round");

    g.append("rect")
        .attr("width", colW).attr("height", rowH)
        .attr("fill", "none")
        .attr("stroke", "#d4d4d4").attr("stroke-width", 1.5);
});

// x axes under each cell line block
[463, 977].forEach(function(ay) {
    colX.forEach(function(cx) {
        var ax = svg.append("g")
            .attr("transform", "translate(" + cx + "," + ay + ")")
            .call(d3.axisBottom(x).tickValues(tickHours).tickSize(5).tickPadding(5));
        ax.select(".domain").attr("stroke", "#111").attr("stroke-width", 2);
        ax.selectAll(".tick line").attr("stroke", "#888");
        ax.selectAll("text")
            .attr("font-size", 17)
            .attr("font-family", "Liberation Sans, Arial, sans-serif")
            .attr("dx", function(d) { return d === 0 ? 4 : (d === 72 ? -8 : 0); });
    });
});

// t (hours) labels under outer columns
[[420, 514], [1691, 514], [420, 1029], [1691, 1029]].forEach(function(pos) {
    svg.append("text").attr("x", pos[0]).attr("y", pos[1])
        .attr("text-anchor", "middle").attr("font-size", 24)
        .text("t (hours)");
});

// legends
var legendX = [729, 862, 1020, 1168];
[529, 1037].forEach(function(ly) {
    var lg = svg.append("g");
    lg.selectAll("rect").data(legendLabels).enter().append("rect")
        .attr("x", function(d, k) { return legendX[k]; })
        .attr("y", ly - 4).attr("width", 55).attr("height", 7)
        .attr("fill", function(d, k) { return swatchColors[k]; })
        .attr("stroke", function(d, k) { return d3.color(swatchColors[k]).darker(0.8); })
        .attr("stroke-width", 1);
    lg.selectAll("text").data(legendLabels).enter().append("text")
        .attr("x", function(d, k) { return legendX[k] + 72; })
        .attr("y", ly + 8)
        .attr("font-size", 24)
        .text(function(d) { return d; });
});

// y axis lines and labels
[[72, 449, 250], [590, 964, 781]].forEach(function(r) {
    svg.append("line").attr("x1", 97).attr("x2", 97).attr("y1", r[0]).attr("y2", r[1])
        .attr("stroke", "#111").attr("stroke-width", 1.5);
    svg.append("text")
        .attr("transform", "translate(86," + r[2] + ") rotate(-90)")
        .attr("text-anchor", "middle").attr("font-size", 25)
        .text("Intensity of fluorescence");
});

// row labels
[161, 361, 678, 878].forEach(function(cy, k) {
    svg.append("text")
        .attr("transform", "translate(43," + cy + ") rotate(-90)")
        .attr("text-anchor", "middle").attr("font-size", 37)
        .text(rowLabels[k]);
});

// column titles
[[428, 38], [1062, 38], [1691, 44]].forEach(function(pos, k) {
    svg.append("text").attr("x", pos[0]).attr("y", pos[1])
        .attr("text-anchor", "middle").attr("font-size", 36)
        .text(columnTitles[k]);
});

svg.append("text").attr("x", 12).attr("y", 41).attr("font-size", 44).text("A");
svg.append("text").attr("x", 12).attr("y", 558).attr("font-size", 44).text("B");
svg.append("text").attr("x", 106).attr("y", 65).attr("font-size", 29).text("A549");
svg.append("text").attr("x", 106).attr("y", 583).attr("font-size", 29).text("BEAS-2B");
</script>
</body>
</html>
